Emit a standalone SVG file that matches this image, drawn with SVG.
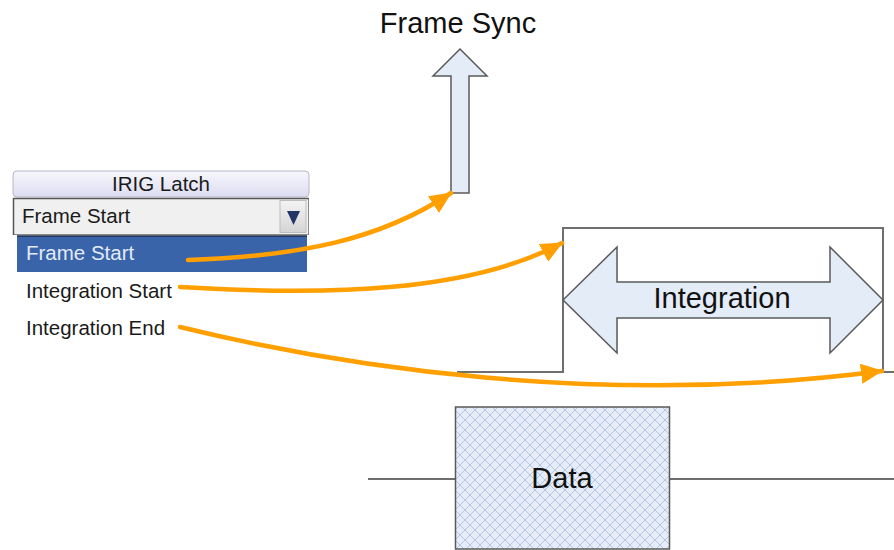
<svg xmlns="http://www.w3.org/2000/svg" width="894" height="550" viewBox="0 0 894 550">
<style>
.ui{font-family:"Liberation Sans",Arial,sans-serif;font-size:20.5px;fill:#1a1a1a}
.big{font-family:"Liberation Sans",Arial,sans-serif;font-size:29px;fill:#111}
.shape{fill:#e4ecf7;stroke:#5a5a5a;stroke-width:1.5}
.sig{fill:none;stroke:#6e6e6e;stroke-width:2}
.conn{fill:none;stroke:#ff9f00;stroke-width:4.5;stroke-linecap:round}
</style>
<defs>
<linearGradient id="hdr" x1="0" y1="0" x2="0" y2="1">
<stop offset="0" stop-color="#f7f7fd"/>
<stop offset="1" stop-color="#dcdcf0"/>
</linearGradient>
<linearGradient id="btn" x1="0" y1="0" x2="0" y2="1">
<stop offset="0" stop-color="#f4f4f4"/>
<stop offset="1" stop-color="#d4d4d4"/>
</linearGradient>
<pattern id="hatch" width="10" height="10" patternUnits="userSpaceOnUse">
<rect width="10" height="10" fill="#e6edf8"/>
<path d="M0,5 L5,0 L10,5 L5,10 Z" fill="none" stroke="#b4c6e2" stroke-width="1"/>
</pattern>
<marker id="ah" markerUnits="userSpaceOnUse" markerWidth="22" markerHeight="20" refX="21" refY="10" orient="auto">
<path d="M0,0 L22,10 L0,20 Z" fill="#ff9f00"/>
</marker>
</defs>

<g id="title-frame-sync">
<text class="big" x="458" y="33" text-anchor="middle">Frame Sync</text>
</g>

<g id="frame-sync-arrow">
<polygon class="shape" points="460,49 487,76 469,76 469,193 451,193 451,76 433,76"/>
</g>

<g id="irig-latch">
<rect x="13" y="171" width="296" height="26" rx="4" fill="url(#hdr)" stroke="#b8b8c8" stroke-width="1"/>
<text class="ui" x="161" y="191" text-anchor="middle">IRIG Latch</text>
<rect x="13.5" y="198.5" width="295" height="36" fill="#f0f0f0" stroke="#8a8a8a" stroke-width="1"/>
<line x1="13" y1="198.5" x2="309" y2="198.5" stroke="#555" stroke-width="1.5"/>
<line x1="13.5" y1="198" x2="13.5" y2="235" stroke="#555" stroke-width="1.5"/>
<text class="ui" x="22" y="223">Frame Start</text>
<rect x="280" y="200.5" width="26" height="32" fill="url(#btn)" stroke="#bdbdbd" stroke-width="1"/>
<polygon points="287,211 300,211 293.5,225" fill="#233564"/>
<rect x="17" y="236" width="290" height="36" fill="#3a64aa"/>
<line x1="17" y1="236" x2="307" y2="236" stroke="#1e2c48" stroke-width="1.5"/>
<text class="ui" x="26" y="260" style="fill:#e2ebf7">Frame Start</text>
<text class="ui" x="26" y="298">Integration Start</text>
<text class="ui" x="26" y="335">Integration End</text>
</g>

<g id="integration-signal">
<polyline class="sig" points="457,372 563,372 563,228 883,228 883,372 894,372"/>
</g>

<g id="integration-arrow">
<polygon class="shape" points="563,300 617,247 617,282 830,282 830,247 883,300 830,353 830,318 617,318 617,353"/>
<text class="big" x="722" y="308" text-anchor="middle">Integration</text>
</g>

<g id="data">
<line class="sig" x1="368" y1="479" x2="455" y2="479"/>
<line class="sig" x1="670" y1="479" x2="894" y2="479"/>
<rect x="455.5" y="407" width="214" height="142" fill="url(#hatch)" stroke="#5a5a5a" stroke-width="1.5"/>
<text class="big" x="562" y="488" text-anchor="middle">Data</text>
</g>

<g id="connectors">
<path class="conn" d="M188,260 C300,256 380,240 451,193" marker-end="url(#ah)"/>
<path class="conn" d="M180,287 C330,296 470,292 562,243" marker-end="url(#ah)"/>
<path class="conn" d="M180,327 C340,366 600,408 882,371" marker-end="url(#ah)"/>
</g>
</svg>
